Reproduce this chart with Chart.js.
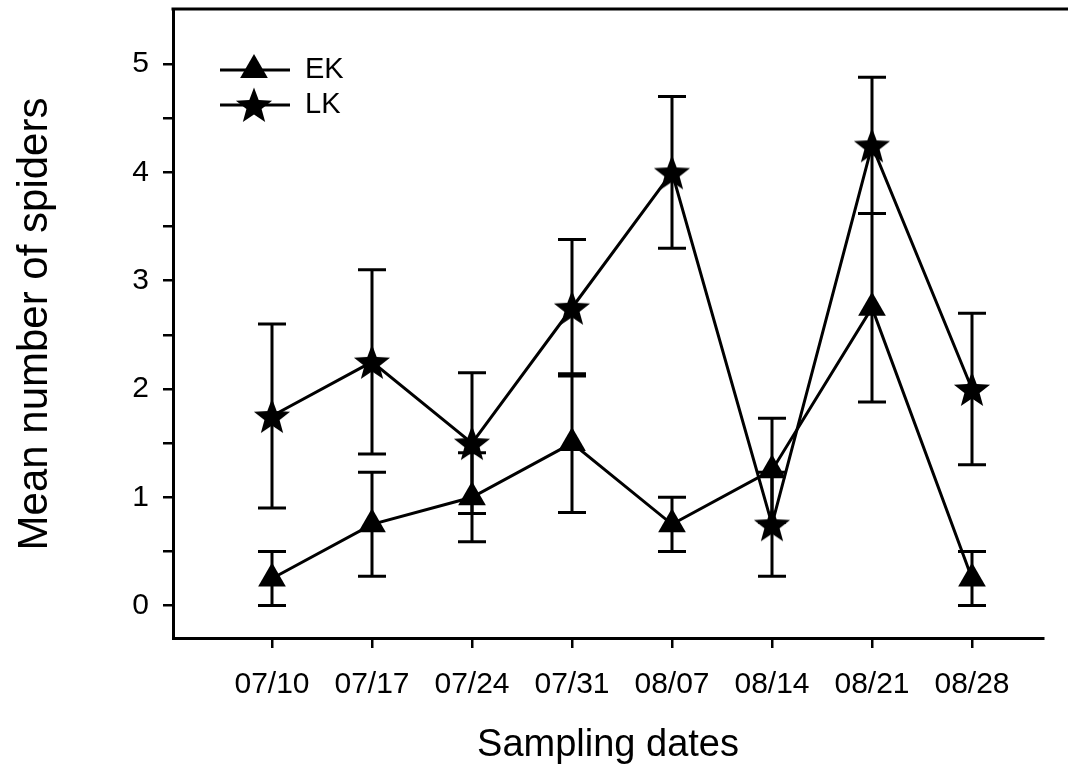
<!DOCTYPE html>
<html>
<head>
<meta charset="utf-8">
<script src="https://cdn.jsdelivr.net/npm/chart.js@4/dist/chart.umd.min.js"></script>
<style>
html,body{margin:0;padding:0;background:#fff;}
#wrap{width:1068px;height:768px;position:relative;}
</style>
</head>
<body>
<div id="wrap"><canvas id="c" width="1068" height="768"></canvas></div>
<script>
const dates = ['07/10','07/17','07/24','07/31','08/07','08/14','08/21','08/28'];
const ekMean = [0.25, 0.75, 1.0, 1.5, 0.75, 1.25, 2.75, 0.25];
const ekErr  = [0.25, 0.48, 0.41, 0.64, 0.25, 0.48, 0.87, 0.25];
const lkMean = [1.75, 2.25, 1.5, 2.75, 4.0, 0.75, 4.25, 2.0];
const lkErr  = [0.85, 0.85, 0.65, 0.63, 0.70, 0.48, 0.63, 0.70];
const yTicks = [0, 0.5, 1, 1.5, 2, 2.5, 3, 3.5, 4, 4.5, 5];
const seriesNames = ['EK', 'LK'];

const FONT = 'Arial, "Liberation Sans", sans-serif';

function makeStar(size){
  const cv = document.createElement('canvas');
  cv.width = size; cv.height = size;
  const c = cv.getContext('2d');
  const cx = size/2, cy = size/2 + size*0.04, R = size/2, r = R*0.42;
  c.beginPath();
  for(let i=0;i<10;i++){
    const ang = -Math.PI/2 + i*Math.PI/5;
    const rad = (i%2===0)?R:r;
    const x = cx + rad*Math.cos(ang), y = cy + rad*Math.sin(ang);
    if(i===0) c.moveTo(x,y); else c.lineTo(x,y);
  }
  c.closePath();
  c.fillStyle = '#000';
  c.fill();
  return cv;
}
const starImg = makeStar(38);

const toXY = arr => arr.map((v,i)=>({x:i, y:v}));

const errorBars = {
  id:'errorBars',
  beforeDatasetsDraw(chart){
    const ctx = chart.ctx, xs = chart.scales.x, ys = chart.scales.y;
    const sets = [[ekMean, ekErr],[lkMean, lkErr]];
    ctx.save();
    ctx.strokeStyle = '#000';
    ctx.lineWidth = 3;
    const cap = 14;
    sets.forEach(([m,e])=>{
      m.forEach((v,i)=>{
        const px = xs.getPixelForValue(i);
        const lo = Math.max(0, v - e[i]);
        const top = ys.getPixelForValue(v + e[i]);
        const bot = ys.getPixelForValue(lo);
        ctx.beginPath();
        ctx.moveTo(px, top); ctx.lineTo(px, bot);
        ctx.moveTo(px-cap, top); ctx.lineTo(px+cap, top);
        ctx.moveTo(px-cap, bot); ctx.lineTo(px+cap, bot);
        ctx.stroke();
      });
    });
    ctx.restore();
  }
};

const frameAndLegend = {
  id:'frameAndLegend',
  afterDraw(chart){
    const ctx = chart.ctx, a = chart.chartArea;
    ctx.save();
    ctx.strokeStyle = '#000';
    ctx.lineWidth = 3;
    ctx.beginPath();
    ctx.moveTo(a.left-1.5, a.top - 1); ctx.lineTo(chart.width, a.top - 1);
    ctx.stroke();
    const lx0 = a.left + 47, lx1 = a.left + 117, mx = a.left + 81;
    const rows = [{y:a.top+60, name:seriesNames[0], tri:true},{y:a.top+95, name:seriesNames[1], tri:false}];
    rows.forEach(r=>{
      ctx.lineWidth = 3;
      ctx.strokeStyle = '#000';
      ctx.beginPath(); ctx.moveTo(lx0, r.y); ctx.lineTo(lx1, r.y); ctx.stroke();
      if(r.tri){
        ctx.fillStyle='#000';
        ctx.beginPath();
        const R=16;
        ctx.moveTo(mx, r.y - R);
        ctx.lineTo(mx + R*Math.sin(Math.PI*2/3), r.y - R*Math.cos(Math.PI*2/3));
        ctx.lineTo(mx - R*Math.sin(Math.PI*2/3), r.y - R*Math.cos(Math.PI*2/3));
        ctx.closePath(); ctx.fill();
      } else {
        ctx.drawImage(starImg, mx - starImg.width/2, r.y - starImg.height/2);
      }
      ctx.fillStyle = '#000';
      ctx.font = '29px ' + FONT;
      ctx.textAlign = 'left'; ctx.textBaseline = 'middle';
      ctx.fillText(r.name, lx1 + 15, r.y);
    });
    ctx.restore();
  }
};

new Chart(document.getElementById('c'), {
  type:'line',
  data:{
    datasets:[
      {label:seriesNames[0], data:toXY(ekMean), borderColor:'#000', backgroundColor:'#000', borderWidth:3,
       pointStyle:'triangle', pointRadius:16, pointBorderWidth:0, pointBackgroundColor:'#000', tension:0},
      {label:seriesNames[1], data:toXY(lkMean), borderColor:'#000', backgroundColor:'#000', borderWidth:3,
       pointStyle:starImg, pointRadius:19, tension:0}
    ]
  },
  options:{
    responsive:false,
    animation:false,
    events:[],
    layout:{autoPadding:false, padding:{top:10, right:25, left:0, bottom:0}},
    plugins:{legend:{display:false}, tooltip:{enabled:false}},
    scales:{
      x:{
        type:'linear', min:-0.99, max:7.71,
        afterBuildTicks(s){ s.ticks = dates.map((d,i)=>({value:i})); },
        afterFit(s){ s.height = 130; s.paddingLeft = 0; s.paddingRight = 0; },
        ticks:{ autoSkip:false, maxRotation:0, padding:19, color:'#000',
          font:{family:FONT, size:30},
          callback:(v)=>dates[v] },
        grid:{ display:true, drawOnChartArea:false, drawTicks:true, tickLength:10, color:'#000', lineWidth:2.5 },
        border:{ display:true, color:'#000', width:3 },
        title:{ display:true, text:'Sampling dates', color:'#000', font:{family:FONT, size:38}, padding:{top:10, bottom:0} }
      },
      y:{
        type:'linear', min:-0.3, max:5.5,
        afterBuildTicks(s){ s.ticks = yTicks.map(v=>({value:v})); },
        afterFit(s){ s.width = 173; s.paddingTop = 0; s.paddingBottom = 0; },
        ticks:{ autoSkip:false, padding:14, color:'#000',
          font:{family:FONT, size:30},
          callback:(v)=> Number.isInteger(v) ? String(v) : '' },
        grid:{ display:true, drawOnChartArea:false, drawTicks:true, tickLength:10, color:'#000', lineWidth:2.5 },
        border:{ display:true, color:'#000', width:3 },
        title:{ display:true, text:'Mean number of spiders', color:'#000', font:{family:FONT, size:42}, padding:{top:10, bottom:0} }
      }
    }
  },
  plugins:[errorBars, frameAndLegend]
});
</script>
</body>
</html>
